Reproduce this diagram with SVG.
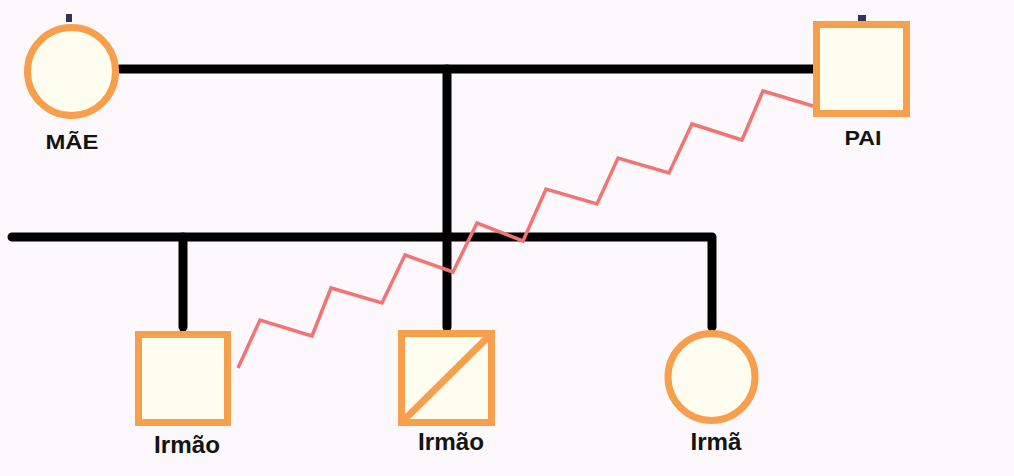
<svg xmlns="http://www.w3.org/2000/svg" width="1014" height="476" viewBox="0 0 1014 476">
  <style>
    .bg { fill: #fcf8fb; }
    .person { fill: #fffdef; stroke: #f6a04d; stroke-width: 7; }
    .bond { fill: none; stroke: #000; stroke-width: 9; stroke-linecap: round; stroke-linejoin: round; }
    .conflict { fill: none; stroke: #f27474; stroke-width: 3.5; stroke-linejoin: miter; }
    .label { font-family: "Liberation Sans", Arial, sans-serif; font-weight: bold; font-size: 21px; fill: #141414; text-anchor: middle; }
    .child { font-size: 23px; }
    .tick { fill: #33335a; }
  </style>
  <rect class="bg" x="0" y="0" width="1014" height="476"/>

  <g id="connectors">
    <!-- marriage line -->
    <line class="bond" x1="120" y1="69" x2="815" y2="69"/>
    <!-- descent line -->
    <line class="bond" x1="447" y1="69" x2="447" y2="327"/>
    <!-- sibling line -->
    <path class="bond" d="M12,237 H712 V327"/>
    <line class="bond" x1="183" y1="237" x2="183" y2="327"/>
    <!-- conflictual relationship -->
    <polyline class="conflict" points="238,368 260,320 312,336 331,288 382,303 405,255 453,272 477,223 523,241 546,189 597,204 618,158 669,173 692,124 742,140 763,91 813,106"/>
  </g>

  <g id="mae">
    <rect class="tick" x="66" y="14" width="6" height="8"/>
    <circle class="person" cx="71.5" cy="71.5" r="44"/>
    <text class="label" x="72" y="149" textLength="53" lengthAdjust="spacingAndGlyphs">MÃE</text>
  </g>

  <g id="pai">
    <rect class="tick" x="858" y="15" width="8" height="6"/>
    <rect class="person" x="816.5" y="24.5" width="90" height="89"/>
    <text class="label" x="863" y="145" textLength="37" lengthAdjust="spacingAndGlyphs">PAI</text>
  </g>

  <g id="irmao1">
    <rect class="person" x="138.5" y="334.5" width="89" height="88"/>
    <text class="label child" x="187" y="453" textLength="66" lengthAdjust="spacingAndGlyphs">Irmão</text>
  </g>

  <g id="irmao2">
    <rect class="person" x="401.5" y="333.5" width="90" height="89"/>
    <line x1="403" y1="421" x2="490" y2="335" stroke="#f6a04d" stroke-width="7"/>
    <text class="label child" x="451" y="450" textLength="66" lengthAdjust="spacingAndGlyphs">Irmão</text>
  </g>

  <g id="irma">
    <circle class="person" cx="711.5" cy="377" r="43.5"/>
    <text class="label child" x="716" y="450" textLength="51" lengthAdjust="spacingAndGlyphs">Irmã</text>
  </g>
</svg>
